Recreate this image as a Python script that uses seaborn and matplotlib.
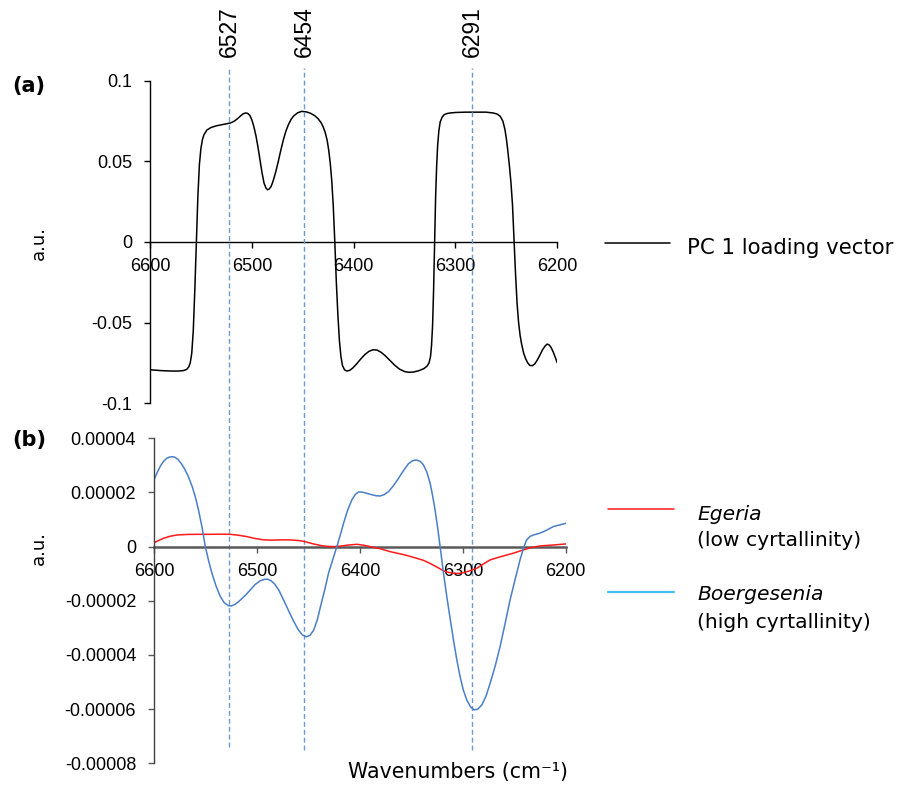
import matplotlib
matplotlib.use("Agg")
import matplotlib.pyplot as plt
import matplotlib.transforms as mtransforms
from matplotlib.lines import Line2D
import seaborn as sns
import pandas as pd

# ---------------- data ----------------
pc1_wn = [6600, 6590, 6580, 6572, 6567, 6564, 6562, 6560.5, 6559, 6557.5, 6556, 6554.5,
          6553, 6551.5, 6550, 6548.5, 6547, 6544, 6540, 6535, 6527, 6521, 6517, 6514,
          6511, 6508.5, 6506, 6504, 6502, 6500, 6498, 6496, 6494, 6492, 6490, 6488,
          6486, 6484.5, 6483, 6481, 6479, 6476.5, 6474, 6471.5, 6469, 6466.5, 6464,
          6461.5, 6459, 6455, 6451, 6446, 6442, 6438, 6435, 6432, 6430, 6428, 6426,
          6424.5, 6423, 6421.5, 6420, 6418.5, 6417, 6415.5, 6414, 6412.5, 6411, 6409,
          6406.8, 6404, 6401, 6397, 6393, 6389, 6385, 6381, 6377, 6373, 6369, 6365, 6360,
          6355, 6350, 6346, 6341, 6336, 6331, 6328, 6326, 6324.5, 6323.5, 6322.5, 6321.5,
          6320.5, 6319.5, 6318.5, 6317.5, 6316.3, 6315, 6313, 6311, 6308, 6305, 6300, 6290,
          6280, 6270, 6263, 6259, 6256, 6253.5, 6251.5, 6250, 6248.5, 6247, 6245.5, 6244,
          6242.4, 6241, 6239.5, 6238, 6236.5, 6235, 6233, 6231, 6229, 6227, 6224.5, 6222,
          6219.5, 6217, 6214.5, 6212, 6210, 6208, 6206, 6204, 6202, 6200]
pc1_val = [-0.0792, -0.0797, -0.0800, -0.0800, -0.0797, -0.0790, -0.0775, -0.0750, -0.0690,
           -0.055, -0.030, 0.0, 0.028, 0.048, 0.058, 0.0635, 0.0665, 0.0695, 0.0710, 0.0720,
           0.0730, 0.0738, 0.0750, 0.0765, 0.0782, 0.0795, 0.0800, 0.0797, 0.0785, 0.0758,
           0.0715, 0.0660, 0.0590, 0.0510, 0.0430, 0.0365, 0.0333, 0.0324, 0.0328, 0.0345,
           0.0380, 0.0435, 0.0500, 0.0570, 0.0634, 0.0688, 0.0728, 0.0760, 0.0781, 0.0801,
           0.0810, 0.0806, 0.0797, 0.0782, 0.0765, 0.0740, 0.0715, 0.0680, 0.0630, 0.0570,
           0.0490, 0.0380, 0.0220, 0.0, -0.0250, -0.0450, -0.0610, -0.0710, -0.0765, -0.0792,
           -0.0800, -0.0796, -0.0782, -0.0755, -0.0725, -0.0698, -0.0678, -0.0668, -0.0670,
           -0.0684, -0.0705, -0.0730, -0.0762, -0.0788, -0.0803, -0.0808, -0.0806, -0.0798,
           -0.0785, -0.0770, -0.0750, -0.0710, -0.0640, -0.0520, -0.0300, 0.0, 0.0280, 0.0469,
           0.0600, 0.0690, 0.0745, 0.0775, 0.0790, 0.0797, 0.0800, 0.0803, 0.0805, 0.0805,
           0.0805, 0.0800, 0.0793, 0.0779, 0.0750, 0.0700, 0.0640, 0.0560, 0.0470, 0.0367,
           0.0230, 0.0, -0.0200, -0.0380, -0.0500, -0.0580, -0.0635, -0.0690, -0.0725,
           -0.0750, -0.0765, -0.0767, -0.0755, -0.0730, -0.0700, -0.0668, -0.0645, -0.0633,
           -0.0638, -0.0655, -0.0682, -0.0715, -0.0750]

boer_wn = [6600, 6597, 6594, 6591, 6588, 6585, 6582.5, 6580, 6577, 6574, 6571, 6567, 6563,
           6560, 6557, 6553.5, 6550.4, 6547, 6544, 6540, 6536, 6532, 6528, 6525, 6521.5,
           6518, 6512, 6506.7, 6502, 6497, 6493, 6490, 6486.5, 6483, 6479, 6474.3, 6469.5,
           6464.6, 6460, 6456, 6452, 6448.5, 6445, 6441.5, 6438, 6434, 6430.6, 6426.5,
           6422.5, 6419, 6416, 6412, 6408, 6404.5, 6401.4, 6397.5, 6393.4, 6389, 6384.5,
           6380.4, 6376.5, 6372.3, 6367.5, 6362.6, 6357.5, 6352.9, 6349, 6345.4, 6341.5,
           6338.3, 6335, 6331.8, 6329.5, 6327, 6324.5, 6322.1, 6318.9, 6315.6, 6312.3,
           6309.1, 6306, 6302.7, 6299.5, 6296.2, 6292.5, 6289.1, 6285.5, 6281.6, 6277.5,
           6273.5, 6268.5, 6263.8, 6259, 6254.1, 6249, 6244.4, 6241, 6238, 6234.5, 6231.4,
           6226.5, 6221.7, 6217, 6212, 6206, 6200]
boer_val = [2.49e-5, 2.75e-5, 2.98e-5, 3.15e-5, 3.26e-5, 3.31e-5, 3.32e-5, 3.30e-5, 3.22e-5,
            3.08e-5, 2.9e-5, 2.6e-5, 2.2e-5, 1.82e-5, 1.35e-5, 0.7e-5, 0.0, -0.55e-5,
            -0.98e-5, -1.45e-5, -1.83e-5, -2.07e-5, -2.18e-5, -2.19e-5, -2.13e-5, -2.03e-5,
            -1.82e-5, -1.6e-5, -1.4e-5, -1.26e-5, -1.21e-5, -1.2e-5, -1.26e-5, -1.38e-5,
            -1.6e-5, -1.97e-5, -2.36e-5, -2.75e-5, -3.07e-5, -3.26e-5, -3.33e-5, -3.27e-5,
            -3.08e-5, -2.7e-5, -2.15e-5, -1.55e-5, -0.98e-5, -0.48e-5, 0.0, 0.45e-5, 0.86e-5,
            1.35e-5, 1.72e-5, 1.93e-5, 2.02e-5, 2.01e-5, 1.97e-5, 1.92e-5, 1.88e-5, 1.87e-5,
            1.92e-5, 2.03e-5, 2.25e-5, 2.52e-5, 2.82e-5, 3.06e-5, 3.17e-5, 3.2e-5, 3.15e-5,
            3.02e-5, 2.75e-5, 2.34e-5, 1.9e-5, 1.35e-5, 0.7e-5, 0.0, -0.95e-5, -1.85e-5,
            -2.67e-5, -3.45e-5, -4.15e-5, -4.8e-5, -5.3e-5, -5.66e-5, -5.92e-5, -6.03e-5,
            -6.0e-5, -5.85e-5, -5.52e-5, -5.05e-5, -4.4e-5, -3.69e-5, -2.85e-5, -1.97e-5,
            -1.18e-5, -0.49e-5, -0.05e-5, 0.25e-5, 0.38e-5, 0.43e-5, 0.48e-5, 0.55e-5,
            0.64e-5, 0.74e-5, 0.8e-5, 0.86e-5]

egeria_wn = [6600, 6595, 6590.9, 6585, 6578, 6568, 6558.5, 6545, 6535, 6526.2, 6518, 6510,
             6502, 6493.8, 6485, 6477.6, 6468, 6458.1, 6451, 6445.2, 6438, 6432.2, 6425,
             6419.3, 6411, 6403.1, 6396, 6390, 6380, 6370.7, 6357, 6344.8, 6338, 6331.8,
             6325, 6318.9, 6314, 6309.1, 6304, 6299.4, 6293, 6286.5, 6280, 6273.5, 6265,
             6257.3, 6249, 6241.1, 6233, 6224.9, 6218, 6212, 6206, 6200]
egeria_val = [1.5e-6, 2.4e-6, 3.1e-6, 3.8e-6, 4.3e-6, 4.5e-6, 4.55e-6, 4.55e-6, 4.6e-6,
              4.55e-6, 4.2e-6, 3.7e-6, 3.0e-6, 2.5e-6, 2.4e-6, 2.5e-6, 2.5e-6, 2.2e-6,
              1.6e-6, 1.0e-6, 4e-7, 1e-7, 0.0, 2e-7, 6e-7, 8.6e-7, 5e-7, 0.0, -8e-7,
              -1.85e-6, -3.0e-6, -4.3e-6, -5.1e-6, -6.2e-6, -7.6e-6, -8.9e-6, -9.5e-6,
              -9.85e-6, -9.9e-6, -9.6e-6, -8.9e-6, -8.0e-6, -6.4e-6, -4.9e-6, -3.9e-6,
              -3.1e-6, -2.2e-6, -1.2e-6, -3e-7, 2.5e-7, 4.5e-7, 6e-7, 8e-7, 1e-6]

peak_marks = [6527, 6454, 6291]
x_ticks = [6600, 6500, 6400, 6300, 6200]
x_ticklabels = ["6600", "6500", "6400", "6300", "6200"]
a_yticks = [0.1, 0.05, 0, -0.05, -0.1]
a_yticklabels = ["0.1", "0.05", "0", "-0.05", "-0.1"]
b_yticks = [0.00004, 0.00002, 0, -0.00002, -0.00004, -0.00006, -0.00008]
b_yticklabels = ["0.00004", "0.00002", "0", "-0.00002", "-0.00004", "-0.00006", "-0.00008"]

# ---------------- style ----------------
sns.set_theme(style="white")
plt.rcParams["font.family"] = ["Liberation Sans", "DejaVu Sans"]
plt.rcParams["text.color"] = "black"

LBL = ["DejaVu Sans"]
TICK_FONT = ["Liberation Sans", "DejaVu Sans"]
BLUE = "#4a7ec8"
RED = "#ff1a1a"
DASH = "#6f97d0"

fig = plt.figure(figsize=(9.15, 7.89), dpi=100)
ax1 = fig.add_axes([150 / 915, 1 - 403.3 / 789, 407.3 / 915, 322.6 / 789])
ax2 = fig.add_axes([154.3 / 915, 1 - 763.3 / 789, 411.4 / 915, 325 / 789])
for ax in (ax1, ax2):
    ax.set_facecolor("none")
fig.patch.set_facecolor("white")

# ---- panel (a) ----
df_a = pd.DataFrame({"wn": pc1_wn, "val": pc1_val})
sns.lineplot(data=df_a, x="wn", y="val", ax=ax1, color="black", linewidth=1.1,
             sort=False, estimator=None)

# ---- panel (b) ----
df_e = pd.DataFrame({"wn": egeria_wn, "val": egeria_val})
df_b = pd.DataFrame({"wn": boer_wn, "val": boer_val})
sns.lineplot(data=df_e, x="wn", y="val", ax=ax2, color=RED, linewidth=1.1,
             sort=False, estimator=None)
sns.lineplot(data=df_b, x="wn", y="val", ax=ax2, color=BLUE, linewidth=1.1,
             sort=False, estimator=None)

def style_axis(ax, yticks, ylabels, ylim, axis_color, zero_lw):
    for s in ("top", "right"):
        ax.spines[s].set_visible(False)
    ax.spines["bottom"].set_position(("data", 0))
    ax.set_xlim(6600, 6200)
    ax.set_ylim(*ylim)
    ax.set_xticks(x_ticks)
    ax.set_xticklabels(x_ticklabels)
    ax.set_yticks(yticks)
    ax.set_yticklabels(ylabels)
    for lab in ax.get_xticklabels() + ax.get_yticklabels():
        lab.set_fontfamily(TICK_FONT)
        lab.set_fontsize(13)
    ax.set_xlabel("")
    ax.set_ylabel("")
    ax.grid(False)
    ax.spines["bottom"].set_color(axis_color)
    ax.spines["bottom"].set_linewidth(zero_lw)
    ax.spines["left"].set_color(axis_color)
    ax.spines["left"].set_linewidth(1.0)
    ax.spines["bottom"].set_zorder(1)
    ax.tick_params(axis="both", which="major", direction="out", length=4.5, width=1.0,
                   color=axis_color, labelcolor="black", labelsize=13,
                   bottom=True, left=True)
    ax.tick_params(axis="x", pad=7)
    ax.tick_params(axis="y", pad=8.5)

style_axis(ax1, a_yticks, a_yticklabels, (-0.1, 0.1), "black", 1.0)
style_axis(ax2, b_yticks, b_yticklabels, (-0.00008, 0.00004), "#595959", 1.8)
ax2.spines["left"].set_color("#404040")

# ---- dashed peak markers (in panel b's x scale, spanning upward) ----
trans = mtransforms.blended_transform_factory(ax2.transData, ax2.transAxes)
for i, pk in enumerate(peak_marks):
    y0 = 0.050 if i == 0 else 0.041
    ax2.plot([pk, pk], [y0, (763.3 - 68) / 325], transform=trans, color=DASH,
             linewidth=1.0, dashes=(3.5, 2.2), clip_on=False, zorder=0)
    ax2.text(pk, (763.3 - 57) / 325, str(pk), transform=trans, rotation=90,
             ha="center", va="bottom", fontsize=16.5, fontfamily=TICK_FONT,
             color="black", clip_on=False)

# ---- labels ----
fig.text(29 / 915, 1 - 86 / 789, "(a)", fontsize=15, fontweight="bold", color="black",
         ha="center", va="center", fontfamily=LBL)
fig.text(29 / 915, 1 - 440 / 789, "(b)", fontsize=15, fontweight="bold", color="black",
         ha="center", va="center", fontfamily=LBL)
fig.text(39 / 915, 1 - 243 / 789, "a.u.", rotation=90, fontsize=13, color="black",
         ha="center", va="center", fontfamily=LBL)
fig.text(39 / 915, 1 - 548 / 789, "a.u.", rotation=90, fontsize=13, color="black",
         ha="center", va="center", fontfamily=LBL)
fig.text(458 / 915, 1 - 772 / 789, "Wavenumbers (cm\u207b\u00b9)", fontsize=14.8,
         color="black", ha="center", va="center", fontfamily=LBL)

# ---- legends (manual) ----
fig.add_artist(Line2D([605 / 915, 670 / 915], [1 - 243 / 789] * 2, color="black",
                      linewidth=1.1, transform=fig.transFigure))
fig.text(687 / 915, 1 - 248 / 789, "PC 1 loading vector", fontsize=15.3, color="black",
         ha="left", va="center", fontfamily=LBL)

fig.add_artist(Line2D([608 / 915, 674 / 915], [1 - 509.3 / 789] * 2, color=RED,
                      linewidth=1.1, transform=fig.transFigure))
fig.text(697 / 915, 1 - 514 / 789, "Egeria", fontsize=14.6, style="italic", color="black",
         ha="left", va="center", fontfamily=LBL)
fig.text(697 / 915, 1 - 541 / 789, "(low cyrtallinity)", fontsize=14.6, color="black",
         ha="left", va="center", fontfamily=LBL)

fig.add_artist(Line2D([608 / 915, 674 / 915], [1 - 591.7 / 789] * 2, color="#40bff0",
                      linewidth=1.6, transform=fig.transFigure))
fig.text(697 / 915, 1 - 595 / 789, "Boergesenia", fontsize=14.6, style="italic",
         color="black", ha="left", va="center", fontfamily=LBL)
fig.text(697 / 915, 1 - 622 / 789, "(high cyrtallinity)", fontsize=14.6, color="black",
         ha="left", va="center", fontfamily=LBL)

fig.savefig("out.png", dpi=100, facecolor="white")
